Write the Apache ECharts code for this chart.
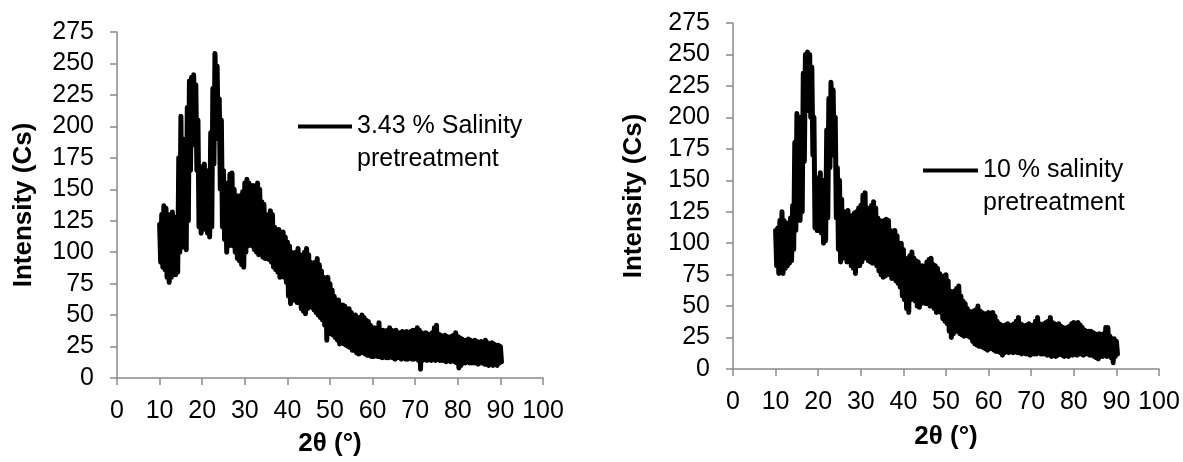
<!DOCTYPE html>
<html>
<head>
<meta charset="utf-8">
<script src="https://cdn.jsdelivr.net/npm/echarts@6/dist/echarts.min.js"></script>
<style>
html, body { margin: 0; padding: 0; background: #fff; }
#container { width: 1183px; height: 462px; }
</style>
</head>
<body>
<div id="container"></div>
<script>
// 2theta sampling: 10..90 deg, every 0.5 deg; upper / lower edge of the noisy trace
var angleStart = 10;
var angleStep = 0.5;

// 3.43 % salinity pretreatment
var upper343 = [
  122,130,137,135,125,130,132,128,124,175,
  208,190,165,215,236,239,241,233,205,160,
  168,170,165,160,195,230,258,248,222,205,
  165,155,150,162,163,150,145,140,145,148,
  155,158,155,150,153,150,155,150,140,138,
  130,128,133,130,120,118,118,115,116,112,
  108,105,100,98,100,103,98,95,100,103,
  98,92,90,92,95,90,85,80,78,80,
  75,70,65,62,62,58,58,57,55,55,
  52,50,50,48,48,50,48,46,45,42,
  40,40,38,44,38,38,37,38,40,38,
  37,38,36,36,37,36,37,36,37,38,
  38,40,38,36,35,36,35,34,36,40,
  42,35,34,33,34,33,32,33,34,36,
  33,32,31,30,30,31,30,29,30,29,
  28,29,28,30,28,27,28,27,26,26,
  25
];
var lower343 = [
  92,88,86,80,76,80,82,82,84,100,
  125,104,102,125,165,185,190,165,120,115,
  118,120,115,112,120,170,215,190,150,120,
  110,100,105,110,105,100,95,93,90,88,
  100,105,110,105,102,100,98,100,96,95,
  95,94,92,88,86,84,80,82,80,76,
  65,59,62,62,60,60,55,53,51,55,
  57,56,54,52,50,48,46,42,30,38,
  35,34,32,30,27,28,27,26,25,24,
  22,22,20,19,20,20,19,18,18,17,
  17,18,17,17,16,17,16,16,17,16,
  15,16,16,15,16,15,15,16,15,15,
  16,14,7,14,15,14,15,14,15,14,
  15,14,14,14,13,14,13,14,13,12,
  8,10,12,12,13,12,12,12,12,11,
  12,12,11,11,10,11,10,11,10,12,
  13
];

// 10 % salinity pretreatment
var upper10 = [
  110,112,118,125,118,115,116,120,130,180,
  203,195,200,235,250,252,250,240,200,150,
  152,156,150,150,190,215,228,222,200,160,
  150,135,125,125,126,120,122,124,125,128,
  130,138,140,128,125,130,133,128,120,118,
  115,118,119,118,110,108,110,106,100,100,
  95,88,85,90,93,88,86,85,80,82,
  80,85,87,88,83,82,80,76,72,74,
  75,70,62,60,62,64,66,58,54,52,
  48,46,45,46,47,50,46,45,44,44,
  45,43,45,42,38,36,35,34,35,36,
  34,35,36,38,41,36,35,34,35,36,
  34,35,38,41,36,35,36,37,38,41,
  37,36,35,36,34,33,32,33,34,36,
  37,36,37,35,33,31,30,30,30,29,
  28,27,28,27,28,33,33,26,24,24,
  22
];
var lower10 = [
  82,76,78,76,80,82,84,86,95,110,
  120,118,125,165,205,215,200,170,112,110,
  112,108,100,102,120,160,195,170,120,95,
  85,88,90,85,86,82,80,76,82,82,
  85,88,90,86,85,84,85,82,78,75,
  73,74,75,76,72,72,70,68,65,58,
  55,48,45,55,56,54,50,49,52,54,
  52,52,50,50,48,45,46,45,40,38,
  36,30,25,28,30,30,28,27,26,27,
  26,25,22,20,19,18,18,17,16,15,
  16,16,15,14,14,13,11,13,14,13,
  14,13,14,13,13,12,13,12,12,11,
  12,12,12,13,12,12,12,11,12,10,
  11,10,11,12,11,10,11,10,12,11,
  12,11,12,12,11,12,12,11,11,10,
  9,8,10,10,11,10,12,9,5,10,
  12
];

var yTicks = { min: 0, max: 275, interval: 25 };
var xTicks = { min: 0, max: 100, interval: 10 };
var names = ['3.43 % Salinity pretreatment', '10 % salinity pretreatment'];

var font = 'Liberation Sans, Arial, sans-serif';
var axisGray = '#8a8a8a';

// zig-zag between the upper and lower edge, like the raw detector trace
function trace(up, lo) {
  var pts = [];
  for (var i = 0; i < up.length; i++) {
    var a = angleStart + i * angleStep;
    pts.push([a, up[i]]);
    pts.push([a + angleStep / 2, lo[i]]);
  }
  return pts;
}

function xAxisOpt(g, gap) {
  return {
    type: 'value', gridIndex: g,
    min: xTicks.min, max: xTicks.max, interval: xTicks.interval,
    name: '2θ (°)', nameLocation: 'middle', nameGap: gap,
    nameTextStyle: { fontFamily: font, fontWeight: 'bold', fontSize: 26, color: '#000' },
    axisLine: { show: true, lineStyle: { color: axisGray, width: 1.5 } },
    axisTick: { show: true, length: 7, lineStyle: { color: axisGray, width: 1.5 } },
    axisLabel: { fontFamily: font, fontSize: 25, color: '#000', margin: 21 },
    splitLine: { show: false }
  };
}

function yAxisOpt(g, gap) {
  return {
    type: 'value', gridIndex: g,
    min: yTicks.min, max: yTicks.max, interval: yTicks.interval,
    name: 'Intensity (Cs)', nameLocation: 'middle', nameRotate: 90, nameGap: gap,
    nameTextStyle: { fontFamily: font, fontWeight: 'bold', fontSize: 26, color: '#000' },
    axisLine: { show: true, lineStyle: { color: axisGray, width: 1.5 } },
    axisTick: { show: true, length: 7, lineStyle: { color: axisGray, width: 1.5 } },
    axisLabel: { fontFamily: font, fontSize: 25, color: '#000', margin: 23 },
    splitLine: { show: false }
  };
}

// blank first line so the legend line sits level with the first text line
function legendOpt(name, left, top, w) {
  return {
    data: [name], left: left, top: top, padding: 0,
    icon: 'rect', itemWidth: w, itemHeight: 4,
    itemStyle: { color: '#000' },
    formatter: function (n) { return ' \n' + n.replace(' pretreatment', '\npretreatment'); },
    textStyle: { fontFamily: font, fontSize: 25, color: '#000', lineHeight: 33 }
  };
}

function seriesOpt(name, g, data) {
  return {
    name: name, type: 'line', xAxisIndex: g, yAxisIndex: g,
    data: data, showSymbol: false, symbol: 'none', sampling: null,
    lineStyle: { color: '#000', width: 5, cap: 'round', join: 'round' },
    itemStyle: { color: '#000' }
  };
}

var myChart = echarts.init(document.getElementById('container'));
var option = {
  animation: false,
  backgroundColor: '#fff',
  grid: [
    { left: 117, top: 32, width: 426, height: 346, outerBoundsMode: 'none' },
    { left: 733, top: 23, width: 426, height: 346, outerBoundsMode: 'none' }
  ],
  xAxis: [xAxisOpt(0, 53), xAxisOpt(1, 55)],
  yAxis: [yAxisOpt(0, 80), yAxisOpt(1, 86)],
  legend: [legendOpt(names[0], 298, 77, 54), legendOpt(names[1], 923, 121, 55)],
  series: [
    seriesOpt(names[0], 0, trace(upper343, lower343)),
    seriesOpt(names[1], 1, trace(upper10, lower10))
  ]
};
myChart.setOption(option);
</script>
</body>
</html>
